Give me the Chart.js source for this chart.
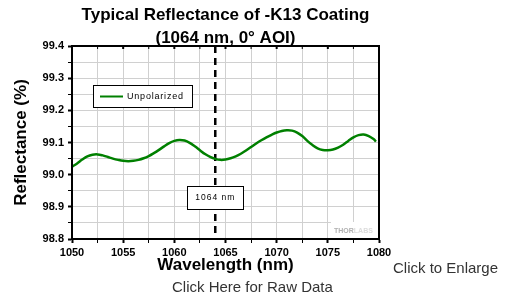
<!DOCTYPE html>
<html>
<head>
<meta charset="utf-8">
<script src="https://cdn.jsdelivr.net/npm/chart.js@4.4.1/dist/chart.umd.min.js"></script>
<style>
    body { margin: 0; background: #fff; }
    #wrap { position: relative; width: 508px; height: 297px; overflow: hidden; }
    #chart { position: absolute; left: 0; top: 0; }
    .link {
        position: absolute;
        font-family: "Liberation Sans", Arial, sans-serif;
        font-size: 15px;
        line-height: 15px;
        color: #333;
        white-space: nowrap;
    }
</style>
</head>
<body>
<div id="wrap">
    <canvas id="chart" width="395" height="280"></canvas>
    <div class="link" style="left:393px; top:260px;">Click to Enlarge</div>
    <div class="link" style="left:172px; top:279px;">Click Here for Raw Data</div>
</div>
<script>
// values
var wavelength = [
    1050, 1050.5, 1051, 1051.5, 1052, 1052.5, 1053, 1053.5, 1054, 1054.5,
    1055, 1055.5, 1056, 1056.5, 1057, 1057.5, 1058, 1058.5, 1059, 1059.5,
    1060, 1060.5, 1061, 1061.5, 1062, 1062.5, 1063, 1063.5, 1064, 1064.5,
    1065, 1065.5, 1066, 1066.5, 1067, 1067.5, 1068, 1068.5, 1069, 1069.5,
    1070, 1070.5, 1071, 1071.5, 1072, 1072.5, 1073, 1073.5, 1074, 1074.5,
    1075, 1075.5, 1076, 1076.5, 1077, 1077.5, 1078, 1078.5, 1079, 1079.5, 1079.7
];
var unpolarized = [
    99.025, 99.035, 99.047, 99.057, 99.062, 99.063, 99.060, 99.055, 99.050, 99.046,
    99.043, 99.042, 99.043, 99.046, 99.051, 99.058, 99.067, 99.077, 99.088, 99.098,
    99.105, 99.108, 99.106, 99.099, 99.088, 99.076, 99.064, 99.055, 99.049, 99.046,
    99.047, 99.051, 99.057, 99.065, 99.075, 99.086, 99.097, 99.107, 99.116, 99.124,
    99.131, 99.136, 99.138, 99.137, 99.131, 99.120, 99.105, 99.092, 99.082, 99.077,
    99.076, 99.078, 99.084, 99.093, 99.105, 99.116, 99.123, 99.125, 99.120, 99.110, 99.103
];
var markerX = [1064, 1064];
var markerY = [99.4, 98.8];
var xLabels = [1050, 1055, 1060, 1065, 1070, 1075, 1080];
var yLabels = [98.8, 98.9, 99.0, 99.1, 99.2, 99.3, 99.4];

var FONT = '"Liberation Sans", Arial, sans-serif';

function toPoints(xs, ys) {
    var pts = [];
    for (var i = 0; i < xs.length; i++) {
        pts.push({ x: xs[i], y: ys[i] });
    }
    return pts;
}

function isLabelled(list, v) {
    for (var i = 0; i < list.length; i++) {
        if (Math.abs(list[i] - v) < 1e-6) return true;
    }
    return false;
}

// legend box, 1064 nm note, watermark and frame
var overlays = {
    id: 'overlays',
    afterDatasetsDraw: function(chart) {
        var ctx = chart.ctx;
        var ca = chart.chartArea;
        var xs = chart.scales.x;

        ctx.save();

        // legend
        var lx = ca.left + 21, ly = ca.top + 39;
        ctx.fillStyle = '#fff';
        ctx.fillRect(lx, ly, 99, 22);
        ctx.strokeStyle = '#000';
        ctx.lineWidth = 1;
        ctx.strokeRect(lx + 0.5, ly + 0.5, 99, 22);
        ctx.strokeStyle = '#008000';
        ctx.lineWidth = 2;
        ctx.beginPath();
        ctx.moveTo(lx + 7, ly + 11.5);
        ctx.lineTo(lx + 30, ly + 11.5);
        ctx.stroke();
        ctx.fillStyle = '#000';
        ctx.font = '9px ' + FONT;
        ctx.letterSpacing = '0.8px';
        ctx.textBaseline = 'middle';
        ctx.textAlign = 'left';
        ctx.fillText(chart.data.datasets[0].label, lx + 34, ly + 12);

        // 1064 nm note
        var mx = xs.getPixelForValue(markerX[0]);
        var bx = Math.round(mx - 28), by = ca.top + 140;
        ctx.fillStyle = '#fff';
        ctx.fillRect(bx, by, 56, 23);
        ctx.strokeStyle = '#000';
        ctx.lineWidth = 1;
        ctx.strokeRect(bx + 0.5, by + 0.5, 56, 23);
        ctx.fillStyle = '#000';
        ctx.font = '8.5px ' + FONT;
        ctx.letterSpacing = '1px';
        ctx.textAlign = 'center';
        ctx.fillText(markerX[0] + ' nm', mx, by + 12);

        // watermark
        var wx = ca.right - 48, wy = ca.bottom - 17;
        ctx.fillStyle = '#fff';
        ctx.fillRect(wx, wy, 47, 16);
        ctx.font = 'bold 7px ' + FONT;
        ctx.letterSpacing = '0px';
        ctx.textAlign = 'left';
        ctx.fillStyle = '#b0b0b0';
        ctx.fillText('THOR', wx + 3, wy + 9);
        var w = ctx.measureText('THOR').width;
        ctx.fillStyle = '#dcdcdc';
        ctx.fillText('LABS', wx + 3 + w, wy + 9);

        // frame and top ticks
        ctx.strokeStyle = '#000';
        ctx.lineWidth = 2;
        ctx.strokeRect(ca.left, ca.top, ca.right - ca.left, ca.bottom - ca.top);
        xs.ticks.forEach(function(t) {
            var px = xs.getPixelForValue(t.value);
            ctx.lineWidth = isLabelled(xLabels, t.value) ? 2 : 1;
            ctx.beginPath();
            ctx.moveTo(px, ca.top);
            ctx.lineTo(px, ca.top + 3);
            ctx.stroke();
        });

        ctx.restore();
    }
};

function drawReflectanceChart() {
    var ctx = document.getElementById('chart');

    var chart = new Chart(ctx, {
        type: 'line',
        data: {
            datasets: [{
                label: 'Unpolarized',
                data: toPoints(wavelength, unpolarized),
                borderColor: '#008000',
                borderWidth: 2.5,
                pointRadius: 0,
                tension: 0.4,
                fill: false
            }, {
                label: '1064 nm',
                data: toPoints(markerX, markerY),
                borderColor: '#000',
                borderWidth: 2.5,
                borderDash: [7, 5],
                pointRadius: 0,
                fill: false
            }]
        },
        options: {
            responsive: false,
            animation: false,
            devicePixelRatio: 1,
            layout: { padding: { left: 0, right: 16, top: 0, bottom: 0 } },
            plugins: {
                legend: { display: false },
                tooltip: { enabled: false },
                title: {
                    display: true,
                    fullSize: false,
                    text: ['Typical Reflectance of -K13 Coating', '(1064 nm, 0\u00B0 AOI)'],
                    color: '#000',
                    font: { family: FONT, size: 17, weight: 'bold', lineHeight: 23 / 17 },
                    padding: { top: 3.5, bottom: -3.5 }
                }
            },
            scales: {
                x: {
                    type: 'linear',
                    min: 1050,
                    max: 1080,
                    afterFit: function(scale) { scale.height = 41; },
                    ticks: {
                        stepSize: 2.5,
                        autoSkip: false,
                        maxRotation: 0,
                        padding: 3,
                        color: '#000',
                        font: { family: FONT, size: 11, weight: 'bold' },
                        callback: function(v) { return isLabelled(xLabels, v) ? String(v) : ''; }
                    },
                    grid: {
                        color: '#d0d0d0',
                        lineWidth: 1,
                        tickLength: 4,
                        tickColor: '#000',
                        tickWidth: function(c) { return c.tick && isLabelled(xLabels, c.tick.value) ? 2 : 1; }
                    },
                    border: { color: '#000', width: 2 },
                    title: {
                        display: true,
                        text: 'Wavelength (nm)',
                        color: '#000',
                        font: { family: FONT, size: 17, weight: 'bold' },
                        padding: { top: 0, bottom: 4.8 }
                    }
                },
                y: {
                    min: 98.8,
                    max: 99.4,
                    afterFit: function(scale) { scale.width = 72; },
                    ticks: {
                        stepSize: 0.05,
                        autoSkip: false,
                        padding: 4,
                        color: '#000',
                        font: { family: FONT, size: 11, weight: 'bold' },
                        callback: function(v) { return isLabelled(yLabels, v) ? v.toFixed(1) : ''; }
                    },
                    grid: {
                        color: '#d0d0d0',
                        lineWidth: 1,
                        tickLength: 4,
                        tickColor: '#000',
                        tickWidth: function(c) { return c.tick && isLabelled(yLabels, c.tick.value) ? 2 : 1; }
                    },
                    border: { color: '#000', width: 2 },
                    title: {
                        display: true,
                        text: 'Reflectance (%)',
                        color: '#000',
                        font: { family: FONT, size: 17, weight: 'bold' },
                        padding: { top: 10.8, bottom: 0 }
                    }
                }
            }
        },
        plugins: [overlays]
    });
    return chart;
}

drawReflectanceChart();
</script>
</body>
</html>
